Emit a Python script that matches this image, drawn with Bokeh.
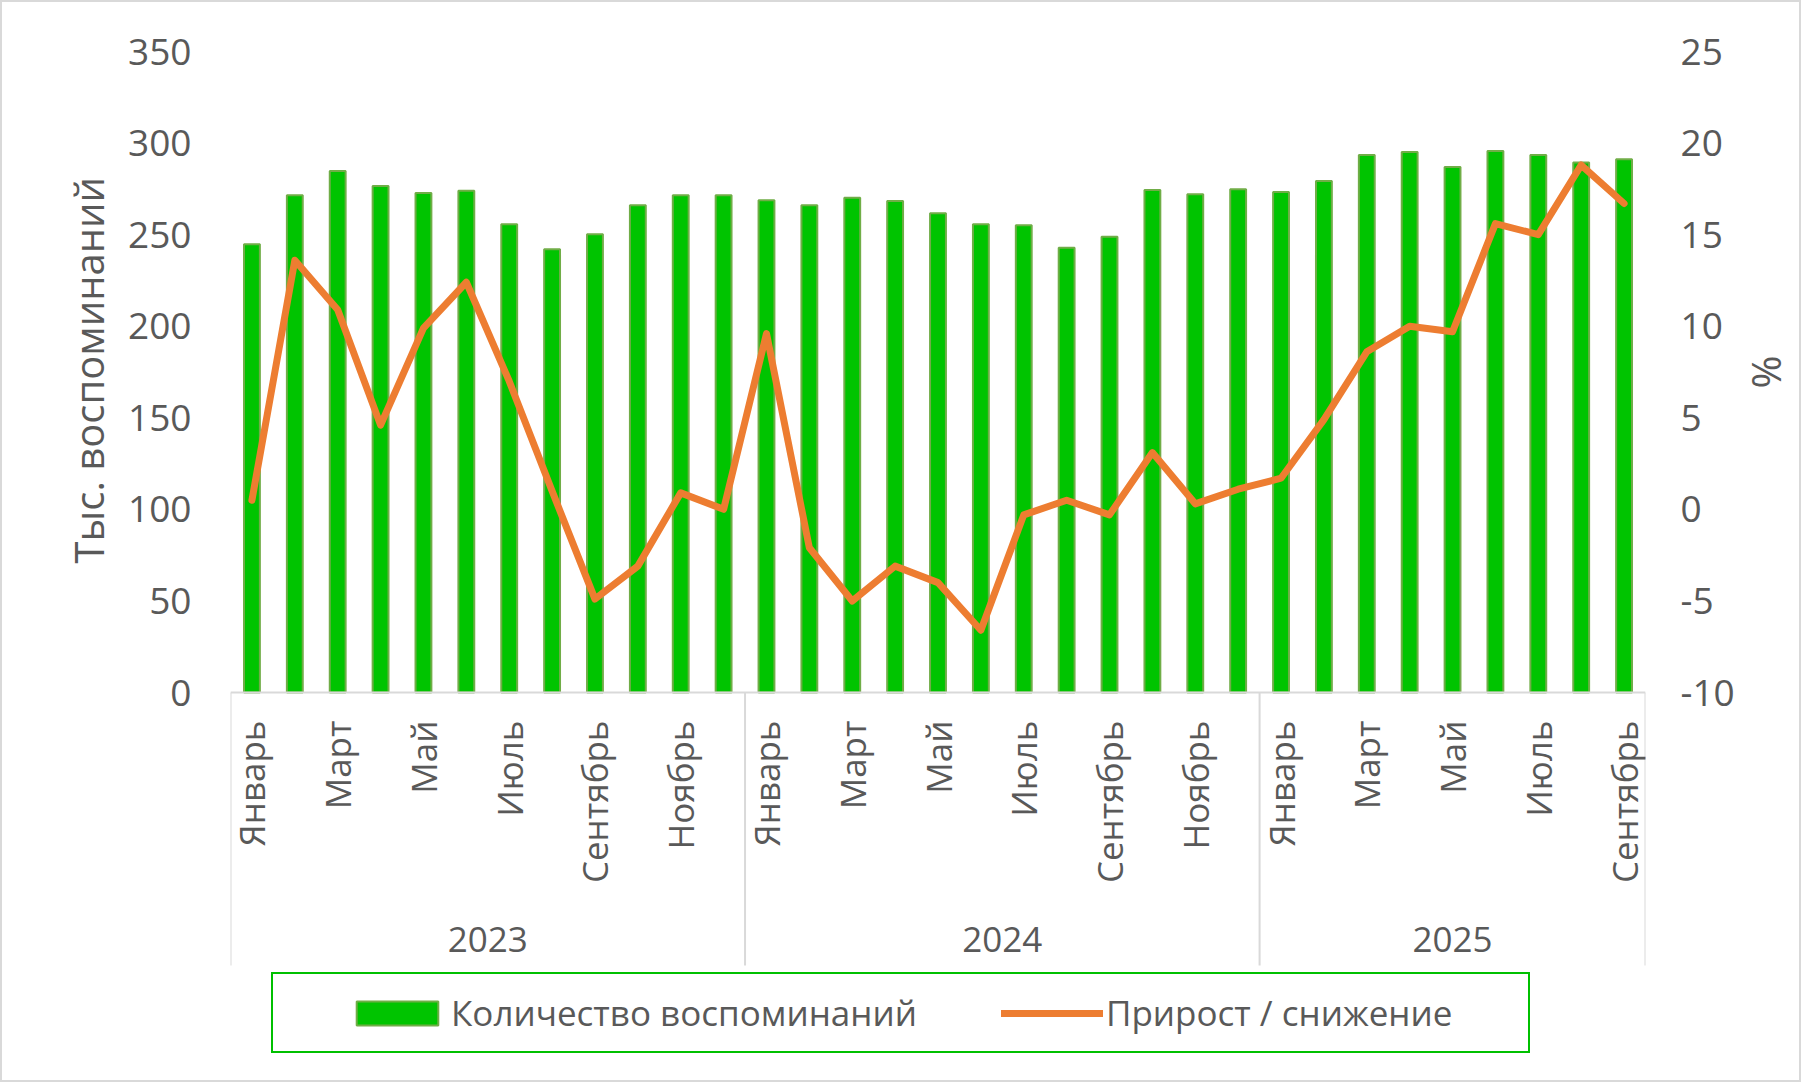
import math
from bokeh.plotting import figure
from bokeh.models import Range1d, FixedTicker, Legend, LegendItem, Span, Title, LinearAxis
from bokeh.core.properties import value
from bokeh.embed import file_html
from bokeh.resources import INLINE

# ---------------- data ----------------
month_names = ["Январь", "Февраль", "Март", "Апрель", "Май", "Июнь",
               "Июль", "Август", "Сентябрь", "Октябрь", "Ноябрь", "Декабрь"]
years = ["2023", "2024", "2025"]
months_per_year = [12, 12, 9]

mentions_2023 = [244.8, 271.5, 284.8, 276.6, 272.8, 273.9, 255.7, 242.0, 250.2, 266.0, 271.5, 271.5]
mentions_2024 = [268.8, 266.0, 270.2, 268.4, 261.7, 255.7, 255.1, 242.9, 248.9, 274.4, 272.1, 274.8]
mentions_2025 = [273.3, 279.3, 293.5, 295.1, 287.0, 295.7, 293.5, 289.4, 291.1]

growth_2023 = [0.5, 13.6, 10.9, 4.6, 9.9, 12.4, 7.0, 1.0, -4.9, -3.1, 0.9, 0.0]
growth_2024 = [9.6, -2.1, -5.0, -3.1, -4.0, -6.6, -0.3, 0.5, -0.3, 3.1, 0.3, 1.1]
growth_2025 = [1.7, 4.9, 8.6, 10.0, 9.7, 15.6, 15.0, 18.8, 16.7]

left_ticks = [0, 50, 100, 150, 200, 250, 300, 350]
right_ticks = [-10, -5, 0, 5, 10, 15, 20, 25]
right_tick_labels = ["-10", "-5", "0", "5", "10", "15", "20", "25"]

series_name_bar = "Количество воспоминаний"
series_name_line = "Прирост / снижение"
left_title = "Тыс. воспоминаний"
right_title = "%"

# ---------------- derived ----------------
mentions = mentions_2023 + mentions_2024 + mentions_2025
growth = growth_2023 + growth_2024 + growth_2025
idx = list(range(len(mentions)))
cat_months = [month_names[i] for n in months_per_year for i in range(n)]
label_idx = [i for i in idx if i % 2 == 0]
label_txt = [cat_months[i] for i in label_idx]

bounds = [-0.5]
centers = []
start = 0
for n in months_per_year:
    centers.append(start + (n - 1) / 2)
    start += n
    bounds.append(start - 0.5)

# ---------------- layout (pixels) ----------------
W, H = 1797, 1078
PLOT_TOP = 49          # y pixel of the top of the value area
ZERO_PX = 690          # y pixel of the category axis line
FRAME_BOTTOM = 1060    # frame extended down to hold the category labels and legend
LEFT, RIGHT = 228, 1643

px_l = (ZERO_PX - PLOT_TOP) / (left_ticks[-1] - left_ticks[0])
px_r = (ZERO_PX - PLOT_TOP) / (right_ticks[-1] - right_ticks[0])
ext = FRAME_BOTTOM - ZERO_PX
y_start_l = left_ticks[0] - ext / px_l
y_start_r = right_ticks[0] - ext / px_r

month_y = -28 / px_l
year_y = -(937 - ZERO_PX) / px_l
sep_y = -273 / px_l

FONT = "Open Sans"
TXT = "#595959"
FS = "35px"
FS_TICK = "37px"
FS_TITLE = "40px"
GRAY = "#D9D9D9"

p = figure(width=W, height=H,
           x_range=Range1d(-0.5, len(mentions) - 0.5),
           y_range=Range1d(y_start_l, left_ticks[-1]),
           x_axis_location=None,
           output_backend="svg", toolbar_location=None,
           min_border_left=LEFT, min_border_right=W - RIGHT,
           min_border_top=PLOT_TOP, min_border_bottom=H - FRAME_BOTTOM)
p.extra_y_ranges = {"pct": Range1d(y_start_r, right_ticks[-1])}
p.outline_line_color = None
p.grid.visible = False
p.background_fill_color = "white"
p.border_fill_color = "white"
p.styles = {"margin": "2px", "outline": "2px solid #D9D9D9"}

# category axis line and group separators
p.add_layout(Span(location=0, dimension="width", line_color=GRAY, line_width=2))
p.segment(x0=bounds, x1=bounds, y0=[0] * len(bounds), y1=[sep_y] * len(bounds),
          line_color=GRAY, line_width=2)

bars = p.vbar(x=idx, top=mentions, width=0.37, fill_color="#00C400",
              line_color="#70AD47", line_width=2)
ln = p.line(x=idx, y=growth, y_range_name="pct", line_color="#ED7D31",
            line_width=7, line_join="round", line_cap="round")

# month labels and year labels
p.text(x=label_idx, y=[month_y] * len(label_idx), text=label_txt, angle=math.pi / 2,
       text_align="right", text_baseline="middle", text_font=value(FONT),
       text_font_size=value(FS), text_color=TXT)
p.text(x=centers, y=[year_y] * len(centers), text=years,
       text_align="center", text_baseline="middle", text_font=value(FONT),
       text_font_size=value(FS), text_color=TXT)

# left axis
yl = p.yaxis[0]
yl.ticker = FixedTicker(ticks=left_ticks, minor_ticks=[])
yl.major_label_standoff = 33
yl.major_label_text_font = FONT
yl.major_label_text_font_size = FS_TICK
yl.major_label_text_color = TXT
yl.axis_line_color = None
yl.major_tick_line_color = None
yl.minor_tick_line_color = None

# right axis
yr = LinearAxis(y_range_name="pct", ticker=FixedTicker(ticks=right_ticks, minor_ticks=[]))
yr.major_label_overrides = {t: s for t, s in zip(right_ticks, right_tick_labels)}
yr.major_label_standoff = 29
yr.major_label_text_font = FONT
yr.major_label_text_font_size = FS_TICK
yr.major_label_text_color = TXT
yr.axis_line_color = None
yr.major_tick_line_color = None
yr.minor_tick_line_color = None
p.add_layout(yr, "right")

# axis titles
lt = Title(text=left_title, align="left", offset=499, standoff=20,
           text_font=FONT, text_font_size=FS_TITLE, text_font_style="normal", text_color=TXT)
p.add_layout(lt, "left")
rt = Title(text=right_title, align="left", offset=304, standoff=4,
           text_font=FONT, text_font_size=FS_TITLE, text_font_style="normal", text_color=TXT)
p.add_layout(rt, "right")

legend = Legend(items=[LegendItem(label=series_name_bar, renderers=[bars]),
                       LegendItem(label=series_name_line, renderers=[ln])],
                orientation="horizontal", location=(41, 9))
legend.border_line_color = "#00C000"
legend.border_line_width = 2.7
legend.border_line_alpha = 1.0
legend.background_fill_color = "white"
legend.background_fill_alpha = 1.0
legend.padding = 15
legend.spacing = 84
legend.margin = 0
legend.label_standoff = 3
legend.glyph_width = 102
legend.glyph_height = 30
legend.label_width = 407
legend.label_text_font = FONT
legend.label_text_font_size = FS
legend.label_text_color = TXT
legend.title = " "
legend.title_location = "left"
legend.title_standoff = 18
legend.title_text_font_size = FS
p.add_layout(legend)

open("out.html", "w").write(file_html(p, INLINE))
